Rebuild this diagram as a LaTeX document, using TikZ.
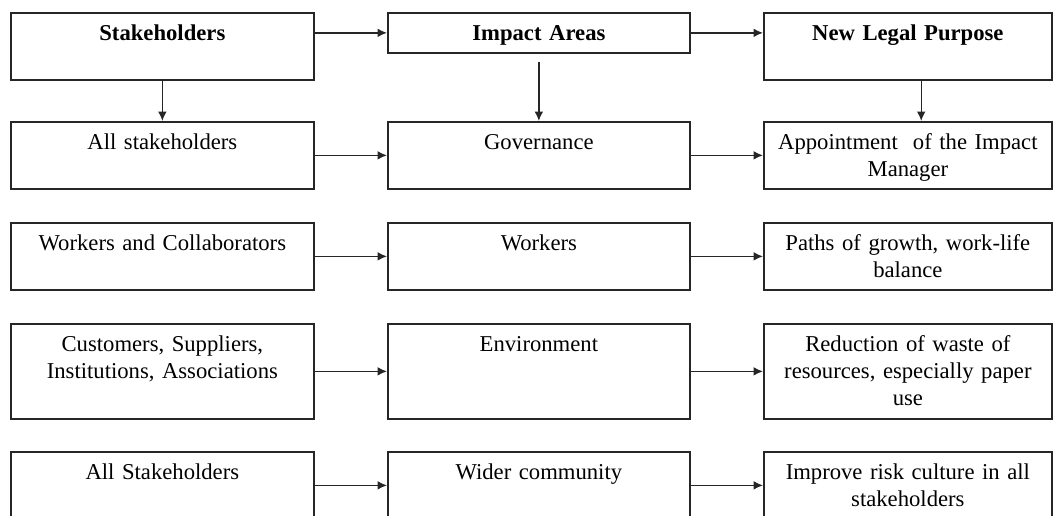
\documentclass[tikz,border=0pt]{standalone}
\usepackage{fontspec}
\setmainfont{Liberation Serif}
\usetikzlibrary{arrows.meta}

\tikzset{
  caja/.style 2 args={draw=black!85,line width=1.3pt,anchor=north west,inner xsep=3pt,inner ysep=0pt,
    align=center,text width=#1,text height=21pt,text depth=#2},
  izq/.style={caja={221.25pt}{#1}},
  med/.style={caja={220.5pt}{#1}},
  der/.style={caja={210pt}{#1}},
  flecha/.style={->,line width=1pt,black!85}
}

\begin{document}
\begin{tikzpicture}[x=0.75pt,y=-0.75pt,>={Latex[length=2.5mm,width=2.3mm]},
  font=\fontsize{17}{20.25}\selectfont]
  \useasboundingbox (0,0) rectangle (1053,515);
  \clip (0,0) rectangle (1053,515);
  % cabeceras
  \node[izq=29.25pt] (stk) at (10,12) {\textbf{Stakeholders}};
  \node[med=9pt] (imp) at (387,12) {\textbf{Impact Areas}};
  \node[der=29.25pt] (leg) at (763,12) {\textbf{New Legal Purpose}};
  % filas
  \node[izq=29.25pt] (all) at (10,121) {All stakeholders};
  \node[med=29.25pt] (gov) at (387,121) {Governance};
  \node[der=29.25pt] (app) at (763,121) {Appointment\ \ of the Impact\\Manager};
  \node[izq=29.25pt] (wco) at (10,222) {Workers and Collaborators};
  \node[med=29.25pt] (wrk) at (387,222) {Workers};
  \node[der=29.25pt] (pth) at (763,222) {Paths of growth, work-life\\balance};
  \node[izq=50.25pt] (csi) at (10,323) {Customers, Suppliers,\\Institutions, Associations};
  \node[med=50.25pt] (env) at (387,323) {Environment};
  \node[der=50.25pt] (red) at (763,323) {Reduction of waste of\\resources, especially paper\\use};
  \node[izq=29.25pt] (als) at (10,451) {All Stakeholders};
  \node[med=29.25pt] (wid) at (387,451) {Wider community};
  \node[der=29.25pt] (irc) at (763,451) {Improve risk culture in all\\stakeholders};
  % flechas
  \draw[flecha] (stk.east |- imp) -- (imp);
  \draw[flecha] (imp) -- (leg.west |- imp);
  \draw[flecha] (stk) -- (all);
  \draw[flecha] ([yshift=-6pt]imp.south) -- (gov);
  \draw[flecha] ([xshift=10pt]leg.south) -- ([xshift=10pt]app.north);
  \foreach \a/\b/\c in {all/gov/app,wco/wrk/pth,csi/env/red,als/wid/irc}{
    \draw[flecha] (\a) -- (\b);
    \draw[flecha] (\b) -- (\c);
  }
\end{tikzpicture}
\end{document}
